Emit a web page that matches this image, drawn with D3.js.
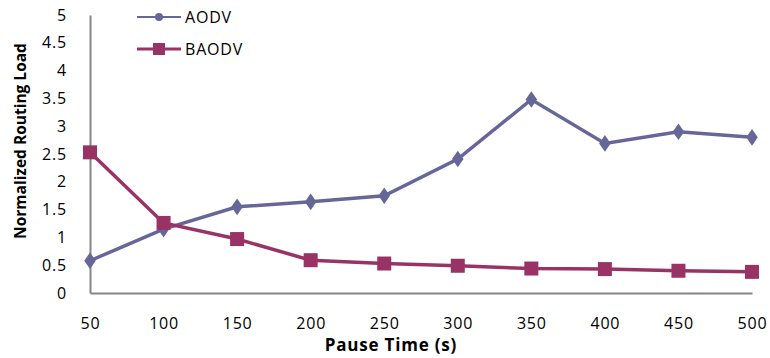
<!DOCTYPE html>
<html>
<head>
<meta charset="utf-8">
<script src="https://cdn.jsdelivr.net/npm/d3@7"></script>
<style>
  body { margin: 0; background: #fff; }
  text { font-family: "Open Sans", "DejaVu Sans", sans-serif; }
</style>
</head>
<body>
<div id="chart"></div>
<script>
var pauseTimes = [50, 100, 150, 200, 250, 300, 350, 400, 450, 500];
var aodv = [0.58, 1.15, 1.55, 1.64, 1.75, 2.41, 3.48, 2.69, 2.9, 2.8];
var baodv = [2.53, 1.26, 0.97, 0.59, 0.53, 0.49, 0.44, 0.43, 0.4, 0.38];
var yTicks = [0, 0.5, 1, 1.5, 2, 2.5, 3, 3.5, 4, 4.5, 5];

var width = 770, height = 358;
var margin = {top: 15, right: 18, bottom: 65, left: 90};

var svg = d3.select("#chart").append("svg")
    .attr("width", width)
    .attr("height", height);

var x = d3.scaleLinear().domain([50, 500]).range([margin.left, width - margin.right]);
var y = d3.scaleLinear().domain([0, 5]).range([height - margin.bottom, margin.top]);

// axes
var xAxis = svg.append("g")
    .attr("transform", "translate(0," + y(0) + ")")
    .call(d3.axisBottom(x).tickValues(pauseTimes).tickSize(0).tickPadding(25).tickFormat(d3.format("d")));
var yAxis = svg.append("g")
    .attr("transform", "translate(" + x(50) + ",0)")
    .call(d3.axisLeft(y).tickValues(yTicks).tickSize(0).tickPadding(23).tickFormat(function(d){ return String(d); }));

[xAxis, yAxis].forEach(function(a){
    a.select(".domain").attr("stroke", "#868686").attr("stroke-width", 2);
    a.selectAll("text").attr("font-size", 16).attr("fill", "#000").style("letter-spacing", "0.8px");
});

svg.append("text")
    .attr("x", 391)
    .attr("y", 351)
    .attr("text-anchor", "middle")
    .attr("font-size", 17)
    .attr("font-weight", "bold")
    .style("letter-spacing", "0.8px")
    .text("Pause Time (s)");

svg.append("text")
    .attr("transform", "translate(26,141) rotate(-90)")
    .attr("text-anchor", "middle")
    .attr("font-size", 15.5)
    .attr("font-weight", "bold")
    .text("Normalized Routing Load");

var line = d3.line()
    .x(function(d, i){ return x(pauseTimes[i]); })
    .y(function(d){ return y(d); });

var cA = "#666699", cB = "#993366";

svg.append("path").datum(aodv)
    .attr("d", line).attr("fill", "none")
    .attr("stroke", cA).attr("stroke-width", 3.5);
svg.append("path").datum(baodv)
    .attr("d", line).attr("fill", "none")
    .attr("stroke", cB).attr("stroke-width", 3.5);

var diamond = d3.symbol().type(d3.symbolDiamond).size(80);

svg.append("g").selectAll("path")
    .data(aodv).enter().append("path")
    .attr("d", diamond)
    .attr("transform", function(d, i){ return "translate(" + x(pauseTimes[i]) + "," + y(d) + ") scale(1.2,1)"; })
    .attr("fill", cA);

svg.append("g").selectAll("rect")
    .data(baodv).enter().append("rect")
    .attr("x", function(d, i){ return x(pauseTimes[i]) - 7; })
    .attr("y", function(d){ return y(d) - 7; })
    .attr("width", 14).attr("height", 14)
    .attr("fill", cB);

// legend
var legend = svg.append("g");
legend.append("line").attr("x1", 137).attr("x2", 181).attr("y1", 17).attr("y2", 17)
    .attr("stroke", cA).attr("stroke-width", 2);
legend.append("circle").attr("cx", 159).attr("cy", 17).attr("r", 4).attr("fill", cA);
legend.append("text").attr("x", 185).attr("y", 23).attr("font-size", 16).style("letter-spacing", "0.8px").text("AODV");

legend.append("line").attr("x1", 137).attr("x2", 181).attr("y1", 49).attr("y2", 49)
    .attr("stroke", cB).attr("stroke-width", 3);
legend.append("rect").attr("x", 153).attr("y", 43).attr("width", 12).attr("height", 12).attr("fill", cB);
legend.append("text").attr("x", 185).attr("y", 55).attr("font-size", 16).style("letter-spacing", "0.8px").text("BAODV");
</script>
</body>
</html>
